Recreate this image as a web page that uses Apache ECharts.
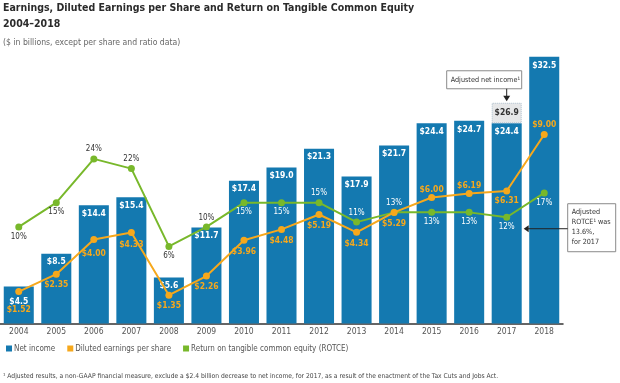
<!DOCTYPE html>
<html><head><meta charset="utf-8">
<script src="https://cdn.jsdelivr.net/npm/echarts@6/dist/echarts.min.js"></script>
<style>html,body{margin:0;padding:0;background:#fff}#c{width:620px;height:383px}</style>
</head><body><div id="c"></div>
<script>
const years = ['2004','2005','2006','2007','2008','2009','2010','2011','2012','2013','2014','2015','2016','2017','2018'];
const netIncome = [4.5, 8.5, 14.4, 15.4, 5.6, 11.7, 17.4, 19.0, 21.3, 17.9, 21.7, 24.4, 24.7, 24.4, 32.5];
const adjustedNetIncome = [null, null, null, null, null, null, null, null, null, null, null, null, null, 26.9, null];
const eps = [1.52, 2.35, 4.00, 4.33, 1.35, 2.26, 3.96, 4.48, 5.19, 4.34, 5.29, 6.00, 6.19, 6.31, 9.00];
const rotce = [10, 15, 24, 22, 6, 10, 15, 15, 15, 11, 13, 13, 13, 12, 17];

// label placement (style only)
const epsLabelPos = ['bottom','bottom','bottom','bottom','bottom','bottom','bottom','bottom','bottom','bottom','bottom','top','top','bottom','top'];
const epsLabelDist = [10,3,6,4,3,3,3,3,3,3,3,0,0,2,2];
const rotceLabelPos = ['bottom','bottom','top','top','bottom','top','bottom','bottom','top','top','top','bottom','bottom','bottom','bottom'];
const rotceLabelOnBar = [false,false,false,false,false,false,true,true,true,true,true,true,true,true,true];
const barLabelDist = [11,4,4,4,4,4,4,4,4,4,4,4,4,4,4];

const FONT = '"DejaVu Sans Condensed","Liberation Sans",sans-serif';
const BLUE = '#1479b0', ORANGE = '#f6a81c', GREEN = '#78b82b', DARK = '#333333';

const chart = echarts.init(document.getElementById('c'), null, {renderer: 'canvas'});
const option = {
  animation: false,
  textStyle: {fontFamily: FONT},
  title: [
    {text: 'Earnings, Diluted Earnings per Share and Return on Tangible Common Equity\n2004–2018', left: 3, top: 1, padding: 0,
     textStyle: {fontFamily: FONT, fontSize: 10.5, fontWeight: 'bold', color: '#2b2b2b', lineHeight: 15.5}},
    {text: '($ in billions, except per share and ratio data)', left: 3, top: 38.5, padding: 0,
     textStyle: {fontFamily: FONT, fontSize: 8.6, fontWeight: 'normal', color: '#666'}}
  ],
  legend: {
    left: 6, top: 344.5, itemWidth: 6, itemHeight: 6, itemGap: 12, icon: 'rect', padding: 0,
    data: ['Net income', 'Diluted earnings per share', 'Return on tangible common equity (ROTCE)'],
    textStyle: {fontFamily: FONT, fontSize: 8, color: '#555', padding: [0,0,0,-3]}
  },
  grid: {left: 0, right: 57, top: 24, bottom: 59.5},
  xAxis: {
    type: 'category', data: years,
    axisLine: {lineStyle: {color: '#333', width: 1.5}},
    axisTick: {show: false},
    axisLabel: {fontFamily: FONT, fontSize: 8.5, color: '#555', margin: 4}
  },
  yAxis: [
    {type: 'value', min: 0, max: 36.5, show: false},
    {type: 'value', min: 0, max: 14.26, show: false},
    {type: 'value', min: -9.86, max: 51.75, show: false}
  ],
  series: [
    {
      name: 'Net income', type: 'bar', yAxisIndex: 0, stack: 'ni', barWidth: '80%',
      data: netIncome.map((v, i) => ({value: v, label: {distance: barLabelDist[i]}})),
      itemStyle: {color: BLUE},
      label: {show: true, position: 'insideTop', formatter: p => '$' + p.value.toFixed(1),
              color: '#fff', fontFamily: FONT, fontSize: 8.5, fontWeight: 'bold'},
      z: 2
    },
    {
      name: 'Adjusted net income', type: 'bar', yAxisIndex: 0, stack: 'ni', barWidth: '80%',
      data: adjustedNetIncome.map((v, i) => v == null ? null : +(v - netIncome[i]).toFixed(2)),
      itemStyle: {color: '#e6e7e8', borderColor: '#a9bccb', borderWidth: 1, borderType: 'dotted'},
      label: {show: true, position: 'inside', formatter: p => '$' + adjustedNetIncome[p.dataIndex].toFixed(1),
              color: '#333', fontFamily: FONT, fontSize: 8.5, fontWeight: 'bold'},
      z: 2
    },
    {
      name: 'Return on tangible common equity (ROTCE)', type: 'line', yAxisIndex: 2,
      data: rotce.map((v, i) => ({value: v, label: {position: rotceLabelPos[i], color: rotceLabelOnBar[i] ? '#fff' : DARK}})),
      itemStyle: {color: GREEN}, lineStyle: {color: GREEN, width: 2},
      symbol: 'circle', symbolSize: 7,
      label: {show: true, distance: 2, formatter: p => p.value + '%', fontFamily: FONT, fontSize: 8},
      z: 4
    },
    {
      name: 'Diluted earnings per share', type: 'line', yAxisIndex: 1,
      data: eps.map((v, i) => ({value: v, label: {position: epsLabelPos[i], distance: epsLabelDist[i]}})),
      itemStyle: {color: ORANGE}, lineStyle: {color: ORANGE, width: 2},
      symbol: 'circle', symbolSize: 7,
      label: {show: true, formatter: p => '$' + p.value.toFixed(2), color: ORANGE,
              fontFamily: FONT, fontSize: 8.5, fontWeight: 'bold'},
      z: 5
    }
  ]
};
chart.setOption(option);

const i17 = years.indexOf('2017');
const adjTop = chart.convertToPixel({xAxisIndex: 0, yAxisIndex: 0}, [i17, adjustedNetIncome[i17]]);
const rPt = chart.convertToPixel({xAxisIndex: 0, yAxisIndex: 2}, [i17, rotce[i17]]);
const bx = adjTop[0], by = adjTop[1];
const ax = rPt[0] + 17, ay = rPt[1] + 11.5;
chart.setOption({
  graphic: [
    {type: 'rect', shape: {x: bx - 60, y: by - 32, width: 75, height: 18}, style: {fill: '#fff', stroke: '#8a8a8a', lineWidth: 1}, z: 10},
    {type: 'text', x: bx - 56, y: by - 23, style: {text: 'Adjusted net income¹', fill: '#333', font: '7.2px ' + FONT, textVerticalAlign: 'middle'}, z: 11},
    {type: 'line', shape: {x1: bx, y1: by - 14, x2: bx, y2: by - 6}, style: {stroke: '#222', lineWidth: 1}, z: 10},
    {type: 'polygon', shape: {points: [[bx - 3.5, by - 7], [bx + 3.5, by - 7], [bx, by - 1.5]]}, style: {fill: '#222'}, z: 10},
    {type: 'rect', shape: {x: ax + 44, y: ay - 25, width: 48, height: 48}, style: {fill: '#fff', stroke: '#8a8a8a', lineWidth: 1}, z: 10},
    {type: 'text', x: ax + 48, y: ay - 21.5, style: {text: 'Adjusted\nROTCE¹ was\n13.6%,\nfor 2017', fill: '#333', font: '7.2px ' + FONT, lineHeight: 10}, z: 11},
    {type: 'line', shape: {x1: ax + 3, y1: ay, x2: ax + 44, y2: ay}, style: {stroke: '#222', lineWidth: 1}, z: 10},
    {type: 'polygon', shape: {points: [[ax, ay], [ax + 5, ay - 3.5], [ax + 5, ay + 3.5]]}, style: {fill: '#222'}, z: 10},
    {type: 'text', left: 3, top: 372.5, style: {text: '¹ Adjusted results, a non-GAAP financial measure, exclude a $2.4 billion decrease to net income, for 2017, as a result of the enactment of the Tax Cuts and Jobs Act.', fill: '#444', font: '6.7px ' + FONT}, z: 11}
  ]
});
</script></body></html>
